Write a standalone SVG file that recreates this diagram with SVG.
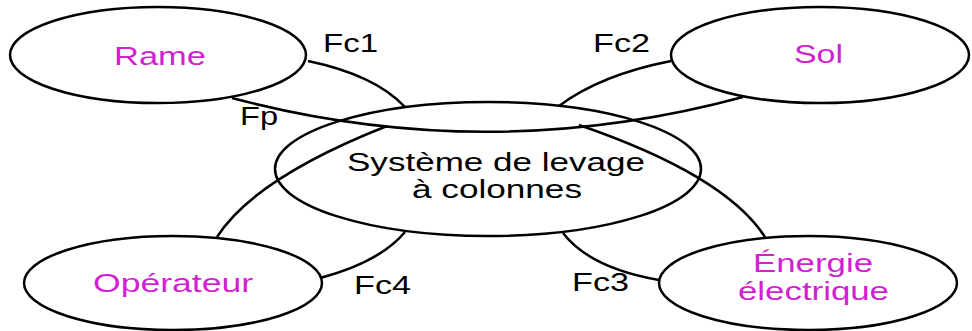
<svg xmlns="http://www.w3.org/2000/svg" width="972" height="331" viewBox="0 0 972 331">
<style>
.n{fill:none;stroke:#000;stroke-width:2.5}
.c{fill:none;stroke:#000;stroke-width:2.5}
text{font-family:"Liberation Sans",Arial,sans-serif;font-size:25px}
.m{fill:#D21FD2}
.k{fill:#000}
</style>
<rect width="972" height="331" fill="#fff"/>
<g id="connectors">
<path class="c" d="M232,98 Q488,166 743,97"/>
<path class="c" d="M308,61 Q375,75 405,107"/>
<path class="c" d="M671,61 Q600,75 559,106"/>
<path class="c" d="M320,278 Q380,262 405,232"/>
<path class="c" d="M659,280 Q590,268 563,233"/>
<path class="c" d="M217,237 Q255,178 387,126"/>
<path class="c" d="M579,125 Q725,175 765,237"/>
<text class="k" x="323" y="52" textLength="55" lengthAdjust="spacingAndGlyphs">Fc1</text>
<text class="k" x="240" y="125" textLength="38" lengthAdjust="spacingAndGlyphs">Fp</text>
<text class="k" x="593" y="52" textLength="57" lengthAdjust="spacingAndGlyphs">Fc2</text>
<text class="k" x="354" y="294" textLength="57" lengthAdjust="spacingAndGlyphs">Fc4</text>
<text class="k" x="572" y="291" textLength="57" lengthAdjust="spacingAndGlyphs">Fc3</text>
</g>
<g id="systeme">
<ellipse class="n" cx="488" cy="169" rx="213" ry="67"/>
<text class="k" x="347" y="171" textLength="298" lengthAdjust="spacingAndGlyphs">Système de levage</text>
<text class="k" x="412" y="198" textLength="170" lengthAdjust="spacingAndGlyphs">à colonnes</text>
</g>
<g id="rame">
<ellipse class="n" cx="158" cy="55" rx="148" ry="48"/>
<text class="m" x="114" y="65" textLength="92" lengthAdjust="spacingAndGlyphs">Rame</text>
</g>
<g id="sol">
<ellipse class="n" cx="820" cy="55" rx="149" ry="48"/>
<text class="m" x="794" y="63" textLength="49" lengthAdjust="spacingAndGlyphs">Sol</text>
</g>
<g id="operateur">
<ellipse class="n" cx="173" cy="283" rx="149" ry="47"/>
<text class="m" x="93" y="292" textLength="160" lengthAdjust="spacingAndGlyphs">Opérateur</text>
</g>
<g id="energie">
<ellipse class="n" cx="808" cy="283" rx="149" ry="47"/>
<text class="m" x="753" y="272" textLength="120" lengthAdjust="spacingAndGlyphs">Énergie</text>
<text class="m" x="738" y="300" textLength="151" lengthAdjust="spacingAndGlyphs">électrique</text>
</g>
</svg>
